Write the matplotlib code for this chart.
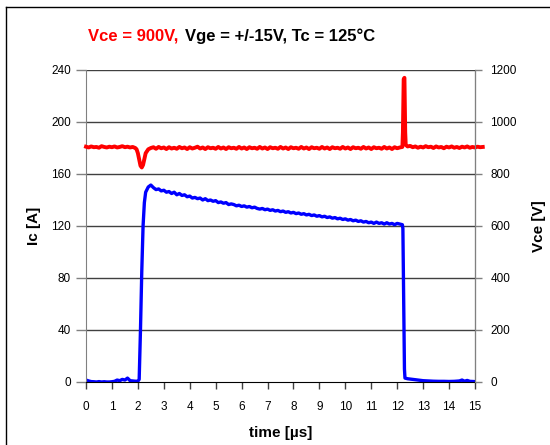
import matplotlib.pyplot as plt
from matplotlib.lines import Line2D

# collector current Ic [A] vs time [us]
t_ic = [0.0, 0.1, 0.2, 0.3, 0.4, 0.5, 0.6, 0.7, 0.8, 0.9,
        1.0, 1.1, 1.2, 1.3, 1.4, 1.5, 1.6, 1.7, 1.8, 1.9,
        2.0, 2.05, 2.1, 2.15, 2.2, 2.25, 2.3, 2.4, 2.5,
        2.6, 2.7, 2.8, 2.9,
        3.0, 3.1, 3.2, 3.3, 3.4, 3.5, 3.6, 3.7, 3.8, 3.9,
        4.0, 4.1, 4.2, 4.3, 4.4, 4.5, 4.6, 4.7, 4.8, 4.9,
        5.0, 5.1, 5.2, 5.3, 5.4, 5.5, 5.6, 5.7, 5.8, 5.9,
        6.0, 6.1, 6.2, 6.3, 6.4, 6.5, 6.6, 6.7, 6.8, 6.9,
        7.0, 7.1, 7.2, 7.3, 7.4, 7.5, 7.6, 7.7, 7.8, 7.9,
        8.0, 8.1, 8.2, 8.3, 8.4, 8.5, 8.6, 8.7, 8.8, 8.9,
        9.0, 9.1, 9.2, 9.3, 9.4, 9.5, 9.6, 9.7, 9.8, 9.9,
        10.0, 10.1, 10.2, 10.3, 10.4, 10.5, 10.6, 10.7, 10.8, 10.9,
        11.0, 11.1, 11.2, 11.3, 11.4, 11.5, 11.6, 11.7, 11.8, 11.9,
        12.0, 12.1, 12.2, 12.22, 12.25, 12.28, 12.3,
        12.4, 12.6, 12.8, 13.0, 13.2, 13.4, 13.6, 13.8,
        14.0, 14.2, 14.4, 14.5, 14.6, 14.7, 14.8, 15.0]
ic = [1.5, 0.8, 0.3, 0.2, 0.0, 0.3, 0.0, 0.2, 0.0, 0.0,
      0.2, 0.5, 1.5, 1.0, 2.0, 1.5, 3.0, 1.0, 0.8, 0.6,
      0.6, 2.0, 40.0, 85.0, 120.0, 138.0, 146.0, 150.0, 151.5,
      149.5, 148.0, 148.5, 147.0,
      147.5, 146.0, 146.5, 145.0, 146.0, 144.0, 145.0, 143.5, 144.0, 142.5,
      143.0, 141.5, 142.0, 141.0, 141.5, 140.0, 141.0, 139.5, 140.0, 139.0,
      139.5, 138.0, 138.5, 137.5, 138.0, 136.5, 137.0, 136.5, 135.5, 136.0,
      135.0, 135.5, 134.5, 135.0, 134.0, 134.5, 133.5, 133.0, 133.5, 132.5,
      133.0, 132.0, 132.5, 131.5, 132.0, 131.0, 131.5, 130.5, 131.0, 130.0,
      130.5, 129.5, 130.0, 129.0, 129.5, 128.5, 129.0, 128.0, 128.5, 127.5,
      128.0, 127.0, 127.5, 126.5, 127.0, 126.0, 126.5, 125.5, 126.0, 125.0,
      125.5, 124.5, 125.0, 124.0, 124.5, 123.5, 124.0, 123.0, 123.5, 122.5,
      123.0, 122.0, 123.0, 122.0, 122.5, 121.5, 122.5, 121.5, 122.0, 121.0,
      122.0, 121.5, 121.0, 118.0, 60.0, 10.0, 3.0,
      2.5, 2.0, 1.5, 1.0, 0.8, 0.6, 0.5, 0.5,
      0.4, 0.5, 0.8, 1.5, 0.6, 1.2, 0.5, 0.3]

# collector-emitter voltage Vce [V] vs time [us]
t_vce = [0.0, 0.1, 0.2, 0.3, 0.4, 0.5, 0.6, 0.7, 0.8, 0.9,
         1.0, 1.1, 1.2, 1.3, 1.4, 1.5, 1.6, 1.7, 1.8, 1.9,
         1.95, 2.0, 2.05, 2.1, 2.15, 2.2, 2.25, 2.3,
         2.4, 2.5, 2.6, 2.7, 2.8, 2.9,
         3.0, 3.1, 3.2, 3.3, 3.4, 3.5, 3.6, 3.7, 3.8, 3.9,
         4.0, 4.1, 4.2, 4.3, 4.4, 4.5, 4.6, 4.7, 4.8, 4.9,
         5.0, 5.1, 5.2, 5.3, 5.4, 5.5, 5.6, 5.7, 5.8, 5.9,
         6.0, 6.1, 6.2, 6.3, 6.4, 6.5, 6.6, 6.7, 6.8, 6.9,
         7.0, 7.1, 7.2, 7.3, 7.4, 7.5, 7.6, 7.7, 7.8, 7.9,
         8.0, 8.1, 8.2, 8.3, 8.4, 8.5, 8.6, 8.7, 8.8, 8.9,
         9.0, 9.1, 9.2, 9.3, 9.4, 9.5, 9.6, 9.7, 9.8, 9.9,
         10.0, 10.1, 10.2, 10.3, 10.4, 10.5, 10.6, 10.7, 10.8, 10.9,
         11.0, 11.1, 11.2, 11.3, 11.4, 11.5, 11.6, 11.7, 11.8, 11.9,
         12.0, 12.1, 12.2,
         12.22, 12.25, 12.28, 12.31, 12.33,
         12.4, 12.5, 12.6, 12.7, 12.8, 12.9,
         13.0, 13.1, 13.2, 13.3, 13.4, 13.5, 13.6, 13.7, 13.8, 13.9,
         14.0, 14.1, 14.2, 14.3, 14.4, 14.5, 14.6, 14.7, 14.8, 14.9,
         15.0, 15.1, 15.2, 15.3]
vce = [905, 902, 906, 903, 904, 901, 907, 904, 902, 905,
       903, 906, 902, 904, 907, 903, 905, 902, 904, 900,
       895, 880, 855, 832, 825, 835, 858, 880,
       895, 900, 903, 897, 904, 899,
       902, 896, 903, 898, 901, 897, 904, 899, 902, 896,
       903, 898, 901, 905, 898, 902, 896, 903, 899, 901,
       897, 904, 898, 902, 896, 903, 899, 901, 897, 904,
       898, 902, 896, 903, 899, 901, 897, 904, 898, 902,
       896, 903, 899, 901, 897, 904, 898, 902, 896, 903,
       899, 901, 897, 904, 898, 902, 896, 903, 899, 901,
       897, 904, 898, 902, 896, 903, 899, 901, 897, 904,
       898, 902, 896, 903, 899, 901, 897, 904, 898, 902,
       896, 903, 899, 901, 897, 904, 898, 902, 896, 903,
       899, 902, 904,
       960, 1165, 1170, 960, 912,
       906, 908, 903, 906, 901, 905,
       902, 907, 903, 905, 900, 906, 902, 904, 899, 905,
       902, 906, 901, 904, 900, 905, 902, 906, 901, 904,
       902, 905, 903, 904]

ic_ticks = [0, 40, 80, 120, 160, 200, 240]
vce_ticks = [0, 200, 400, 600, 800, 1000, 1200]
time_ticks = list(range(0, 16))

tick_font = 'Liberation Sans'
label_font = 'Liberation Sans'

fig = plt.figure(figsize=(5.5, 4.45), dpi=100)
ax = fig.add_axes([0.1564, 0.1416, 0.7072, 0.7011])
ax2 = ax.twinx()

ax.plot(t_ic, ic, color='#0000ff', lw=2.4, solid_joinstyle='round')
ax2.plot(t_vce, vce, color='#ff0000', lw=2.8, solid_joinstyle='round', clip_on=False)

ax.set_xlim(0, 15)
ax.set_ylim(0, 240)
ax2.set_ylim(0, 1200)
ax.set_xticks(time_ticks)
ax.set_yticks(ic_ticks)
ax2.set_yticks(vce_ticks)

for y in ic_ticks[1:]:
    ax.axhline(y, color='#404040', lw=1.0, zorder=0)

for a in (ax, ax2):
    a.spines['top'].set_visible(False)
    a.patch.set_visible(False)
ax.spines['left'].set_color('#808080')
ax2.spines['right'].set_color('#808080')
ax2.spines['left'].set_visible(False)
ax2.spines['bottom'].set_visible(False)
ax.spines['bottom'].set_color('black')

ax.tick_params(axis='y', length=7, width=1, color='#808080', pad=4)
ax.tick_params(axis='x', length=5, width=1, color='#404040', pad=9)
ax2.tick_params(axis='y', length=5, width=1, color='#808080', pad=6)
for lbl in ax.get_xticklabels() + ax.get_yticklabels() + ax2.get_yticklabels():
    lbl.set_fontfamily(tick_font)
    lbl.set_fontsize(8.5)

ax.set_ylabel('Ic [A]', fontsize=11, fontweight='bold', family=label_font, labelpad=7)
ax2.set_ylabel('Vce [V]', fontsize=11, fontweight='bold', family=label_font,
               rotation=90, labelpad=11)
ax.set_xlabel('time [µs]', fontsize=11, fontweight='bold', family=label_font, labelpad=9)

fig.text(88 / 550, 1 - 36 / 445, 'Vce = 900V,', color='#ff0000', fontsize=12,
         fontweight='bold', family=label_font, va='center', ha='left')
fig.text(185 / 550, 1 - 36 / 445, 'Vge = +/-15V, Tc = 125°C', color='black', fontsize=12,
         fontweight='bold', family=label_font, va='center', ha='left')

# outer frame of the original chart
fig.add_artist(Line2D([6 / 550, 6 / 550], [0, 1 - 7 / 445], color='black', lw=1))
fig.add_artist(Line2D([6 / 550, 1], [1 - 7 / 445, 1 - 7 / 445], color='black', lw=1))

fig.savefig('out.png', dpi=100)
